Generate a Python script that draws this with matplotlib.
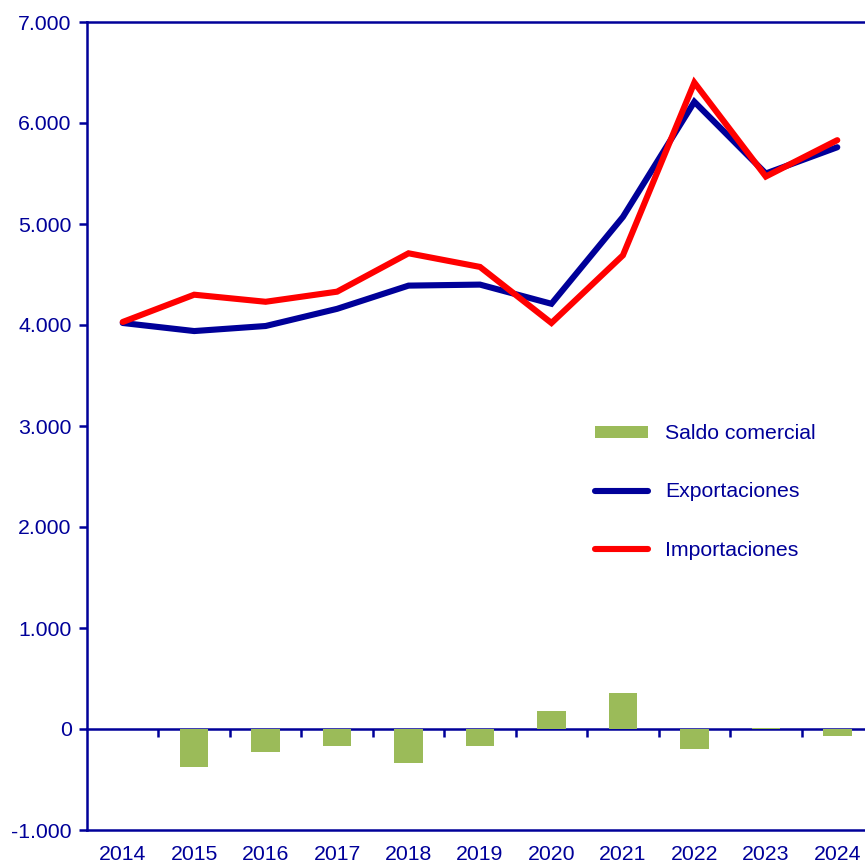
import matplotlib.pyplot as plt
from matplotlib.ticker import FuncFormatter

# ---------------------------
# Datos
# ---------------------------
anios = ["2014", "2015", "2016", "2017", "2018", "2019",
         "2020", "2021", "2022", "2023", "2024"]
exportaciones = [4020, 3940, 3990, 4160, 4390, 4400, 4210, 5070, 6210, 5500, 5760]
importaciones = [4030, 4300, 4230, 4330, 4710, 4575, 4020, 4690, 6400, 5470, 5830]
saldo = [0, -380, -230, -170, -340, -170, 180, 360, -200, 10, -70]

AZUL = "#000099"
ROJO = "#FF0000"
VERDE = "#9BBB59"
FS = 15.3

plt.rcParams["font.family"] = ["Liberation Sans", "DejaVu Sans"]

# ---------------------------
# Figura
# ---------------------------
fig = plt.figure(figsize=(8.65, 8.66), dpi=100)
ax = fig.add_axes([87 / 865, 36 / 866, 786 / 865, 808 / 866])

x = range(len(anios))
barras = ax.bar(x, saldo, width=0.4, color=VERDE, label="Saldo comercial", zorder=2)
l_exp, = ax.plot(x, exportaciones, color=AZUL, lw=4.4, label="Exportaciones",
                 solid_capstyle="round", solid_joinstyle="miter", zorder=3)
l_imp, = ax.plot(x, importaciones, color=ROJO, lw=4.4, label="Importaciones",
                 solid_capstyle="round", solid_joinstyle="miter", zorder=4)

ax.set_xlim(-0.5, len(anios) - 0.5)
ax.set_ylim(-1000, 7000)
ax.set_yticks(range(-1000, 7001, 1000))
ax.yaxis.set_major_formatter(
    FuncFormatter(lambda v, p: f"{int(v):,}".replace(",", ".")))

ax.set_xticks(list(x))
ax.set_xticklabels(anios)

for s in ["left", "top", "bottom"]:
    ax.spines[s].set_color(AZUL)
    ax.spines[s].set_linewidth(1.8)
ax.spines["right"].set_visible(False)

ax.tick_params(axis="y", colors=AZUL, labelsize=FS, length=6, width=1.8,
               pad=5, labelcolor=AZUL)
ax.tick_params(axis="x", length=0, labelsize=FS, pad=11, labelcolor=AZUL)

# Eje en cero con marcas entre categorias
eje0 = ax.secondary_xaxis(1 / 8)
eje0.set_xticks([i + 0.5 for i in range(len(anios) - 1)])
eje0.set_xticklabels([])
eje0.spines["bottom"].set_color(AZUL)
eje0.spines["bottom"].set_linewidth(1.8)
eje0.tick_params(axis="x", length=6, width=1.8, colors=AZUL, direction="out")

leg = ax.legend([barras, l_exp, l_imp],
                ["Saldo comercial", "Exportaciones", "Importaciones"],
                loc="upper left", bbox_to_anchor=(576 / 865, 1 - 405 / 866),
                bbox_transform=fig.transFigure, frameon=False, fontsize=FS,
                labelspacing=1.85, handlelength=2.5, handletextpad=0.8,
                handleheight=0.5, labelcolor=AZUL)

fig.savefig("out.png", dpi=100)
